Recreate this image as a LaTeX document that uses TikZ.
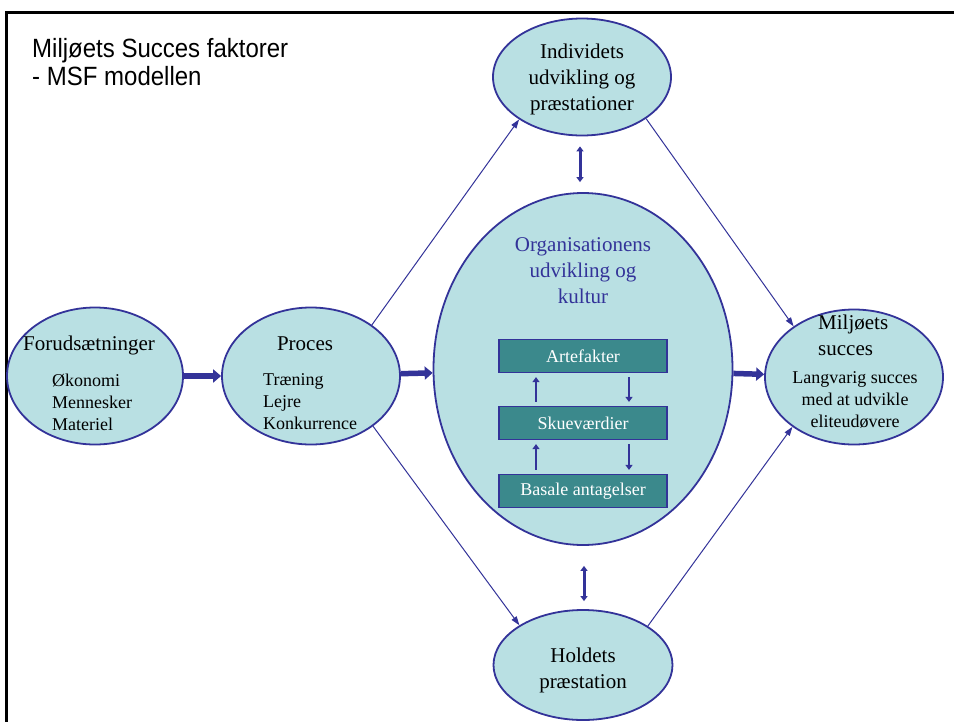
\documentclass[tikz,border=0pt]{standalone}
\usepackage{fontspec}
\setmainfont{Liberation Serif}
\newfontfamily\arialfont{Liberation Sans}
\usetikzlibrary{shapes.geometric,arrows.meta}
\definecolor{ellfill}{HTML}{B9E0E3}
\definecolor{navy}{HTML}{333399}
\definecolor{teal}{HTML}{3B898C}
\tikzset{
  ell/.style={ellipse,draw=navy,fill=ellfill,line width=1.8pt,inner sep=0pt},
  lvl/.style={draw=navy,fill=teal,line width=1.2pt,minimum width=168pt,minimum height=33pt,inner sep=0pt,text=white,font=\fontsize{18}{20}\selectfont},
  big/.style={draw=navy,line width=5.5pt,-{Triangle[length=8pt,width=13pt]}},
  thin/.style={draw=navy,line width=1pt,-{Triangle[length=9pt,width=6pt]}},
  dbl/.style={draw=navy,line width=3pt,{Triangle[length=5pt,width=7pt]}-{Triangle[length=5pt,width=7pt]}},
  small/.style={draw=navy,line width=2.5pt,-{Triangle[length=5pt,width=7pt]}},
  head/.style={font=\fontsize{21}{26}\selectfont,inner sep=0pt,align=center},
  sub/.style={font=\fontsize{18}{22}\selectfont,inner sep=0pt},
  ttl/.style={anchor=base west,inner sep=0pt,font=\arialfont\fontsize{24}{29}\selectfont},
}
\begin{document}
\begin{tikzpicture}[x=1pt,y=-1pt]
\useasboundingbox (0,0) rectangle (954,721);
\fill[white] (0,0) rectangle (954,721);
% frame
\draw[line width=3pt,line cap=rect] (6,721) -- (6,12) -- (954,12);
% title
\node[ttl] (title1) at (32,57) {\scalebox{1}[1.1]{Miljøets Succes faktorer}};
\node[ttl] (title2) at (32,85) {\scalebox{1}[1.1]{- MSF modellen}};
% ellipses
\node[ell,minimum width=176pt,minimum height=137pt] (fore) at (95,376) {};
\node[ell,minimum width=178pt,minimum height=137pt] (proc) at (311,376) {};
\node[ell,minimum width=299pt,minimum height=352pt] (org) at (583,369) {};
\node[ell,minimum width=178pt,minimum height=117pt] (ind) at (582,77) {};
\node[ell,minimum width=179pt,minimum height=110pt] (hold) at (583,665) {};
\node[ell,minimum width=178pt,minimum height=135pt] (milj) at (854,377) {};
% texts
\node[head] (foreT) at (89,345) {Forudsætninger};
\node[sub,anchor=west,align=left] (foreL) at (52,402) {Økonomi\\Mennesker\\Materiel};
\node[head] (procT) at (305,344) {Proces};
\node[sub,anchor=west,align=left] (procL) at (263,402) {Træning\\Lejre\\Konkurrence};
\node[head] (indT) at (582,79) {Individets\\udvikling og\\præstationer};
\node[head,text=navy] (orgT) at (583,271) {Organisationens\\udvikling og\\kultur};
\node[head] (holdT) at (583,670) {Holdets\\præstation};
\node[head,align=left,anchor=north west] (miljT) at (818,315) {Miljøets\\succes};
\node[sub,align=center] (miljL) at (855,400) {Langvarig succes\\med at udvikle\\eliteudøvere};
% levels
\node[lvl] (art) at (583,356) {Artefakter};
\node[lvl] (skue) at (583,423) {Skueværdier};
\node[lvl] (bas) at (583,491) {Basale antagelser};
\draw[small] ([xshift=-47pt,yshift=4pt]skue.north) -- ([xshift=-47pt,yshift=-4pt]art.south);
\draw[small] ([xshift=46pt,yshift=-4pt]art.south) -- ([xshift=46pt,yshift=4pt]skue.north);
\draw[small] ([xshift=-47pt,yshift=4pt]bas.north) -- ([xshift=-47pt,yshift=-4pt]skue.south);
\draw[small] ([xshift=46pt,yshift=-4pt]skue.south) -- ([xshift=46pt,yshift=4pt]bas.north);
% connectors
\draw[big] (fore) -- (proc);
\draw[big] (proc) -- (org);
\draw[big] (org) -- (milj);
\draw[thin] (proc.40) -- (ind.214);
\draw[thin] (proc.321) -- (hold.148);
\draw[thin] (ind.327) -- (milj.140);
\draw[thin] (hold.31) -- (milj.219);
\draw[dbl,shorten <=10pt,shorten >=10pt] ([xshift=-2pt]ind.south) -- ([xshift=-3pt]org.north);
\draw[dbl,shorten <=20pt,shorten >=8pt] ([xshift=1pt]org.south) -- ([xshift=1pt]hold.north);
\end{tikzpicture}
\end{document}
